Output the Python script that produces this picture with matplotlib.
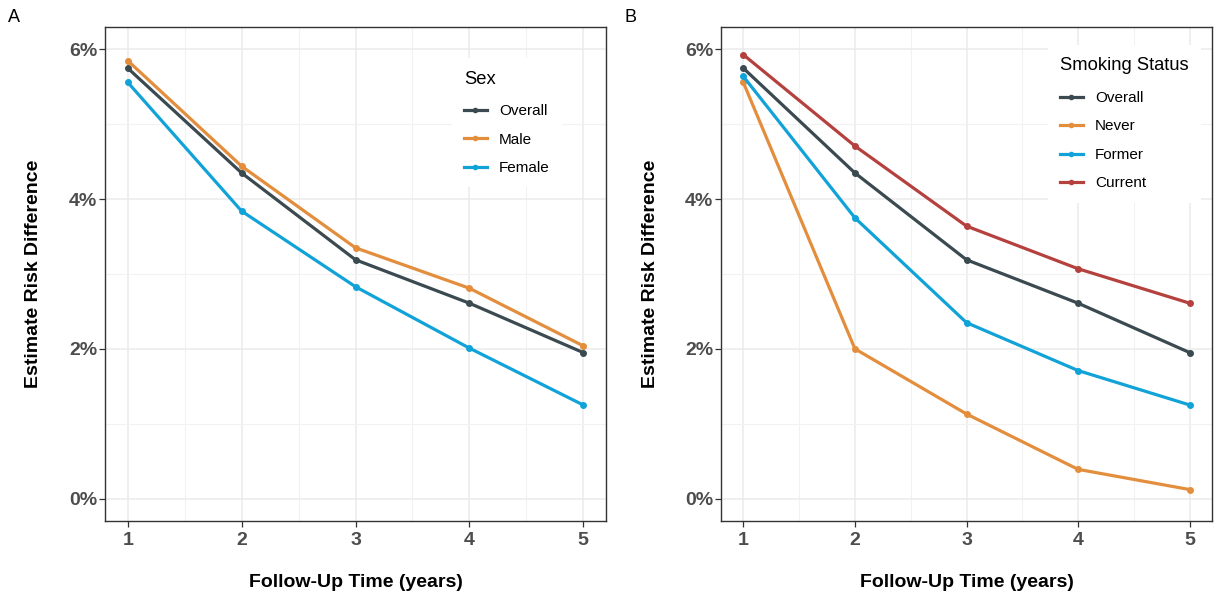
import matplotlib
matplotlib.use("Agg")
import matplotlib.pyplot as plt
from matplotlib.ticker import FuncFormatter, MultipleLocator

plt.rcParams['font.family'] = ['Liberation Sans', 'DejaVu Sans']

years = [1, 2, 3, 4, 5]
x_ticks = [1, 2, 3, 4, 5]
y_ticks = [0.00, 0.02, 0.04, 0.06]

sex_labels = ["Overall", "Male", "Female"]
sex_overall = [0.0575, 0.0435, 0.0319, 0.0261, 0.0195]
sex_male = [0.0585, 0.0444, 0.0335, 0.0281, 0.0204]
sex_female = [0.0556, 0.0384, 0.0283, 0.0201, 0.0125]

smk_labels = ["Overall", "Never", "Former", "Current"]
smk_overall = [0.0575, 0.0435, 0.0319, 0.0261, 0.0195]
smk_never = [0.0556, 0.0200, 0.0113, 0.0039, 0.0012]
smk_former = [0.0564, 0.0375, 0.0235, 0.0171, 0.0125]
smk_current = [0.0593, 0.0471, 0.0364, 0.0307, 0.0261]

c_overall = "#3A4A50"
c_orange = "#E38E3D"
c_blue = "#11A3D8"
c_red = "#B5413F"

fig = plt.figure(figsize=(12.14, 5.97), dpi=100)
axA = fig.add_axes([105/1214, 1-521/597, (606-105)/1214, (521-27)/597])
axB = fig.add_axes([721/1214, 1-521/597, (1212-721)/1214, (521-27)/597])


def style(ax, ylab_x):
    ax.set_xlim(0.8, 5.2)
    ax.set_ylim(-0.003, 0.063)
    ax.set_xticks(x_ticks)
    ax.set_yticks(y_ticks)
    ax.xaxis.set_minor_locator(MultipleLocator(0.5))
    ax.yaxis.set_minor_locator(MultipleLocator(0.01))
    ax.yaxis.set_major_formatter(FuncFormatter(lambda v, p: f"{v*100:.0f}%"))
    ax.grid(which='major', color='#EBEBEB', linewidth=1.1, zorder=0)
    ax.grid(which='minor', color='#F2F2F2', linewidth=0.8, zorder=0)
    ax.set_axisbelow(True)
    for s in ax.spines.values():
        s.set_color('#333333')
        s.set_linewidth(1.0)
    ax.tick_params(which='major', length=4, color='#333333', width=0.9,
                   labelsize=14, labelcolor='#4D4D4D', pad=4)
    ax.tick_params(axis='y', which='major', pad=1.5)
    ax.tick_params(which='minor', length=0)
    for lab in ax.get_xticklabels() + ax.get_yticklabels():
        lab.set_fontweight('bold')
    ax.set_xlabel("Follow-Up Time (years)", fontsize=14, fontweight='bold',
                  va='center')
    ax.xaxis.set_label_coords(0.5, -0.1235)
    ax.set_ylabel("Estimate Risk Difference", fontsize=14, fontweight='bold',
                  va='center', ha='center')
    ax.yaxis.set_label_coords(ylab_x, 0.5)


def draw(ax, series, labels, colors):
    for vals, lab, col in zip(series, labels, colors):
        ax.plot(years, vals, color=col, linewidth=2.3, marker='o',
                markersize=4, label=lab, zorder=3)


draw(axA, [sex_overall, sex_male, sex_female], sex_labels,
     [c_overall, c_orange, c_blue])
draw(axB, [smk_overall, smk_never, smk_former, smk_current], smk_labels,
     [c_overall, c_orange, c_blue, c_red])

style(axA, -0.1437)
style(axB, -0.1446)

leg_kw = dict(loc='upper left', frameon=True, fancybox=False,
              edgecolor='none', facecolor='white', framealpha=1,
              fontsize=11, title_fontsize=13.2, handlelength=1.5,
              labelspacing=0.95, borderpad=0.8, handletextpad=0.8)
legA = axA.legend(title="Sex", bbox_to_anchor=(0.677, 0.952), **leg_kw)
legB = axB.legend(title="Smoking Status", bbox_to_anchor=(0.65, 0.979),
                  **leg_kw)
for leg in (legA, legB):
    leg._legend_box.align = "left"
    leg._legend_box.sep = 12
    for h in leg.legend_handles:
        h.set_markersize(3)

fig.text(8/1214, 1-18/597, "A", fontsize=13, va='center', ha='left')
fig.text(625/1214, 1-18/597, "B", fontsize=13, va='center', ha='left')

fig.savefig("out.png", dpi=100, facecolor='white')
